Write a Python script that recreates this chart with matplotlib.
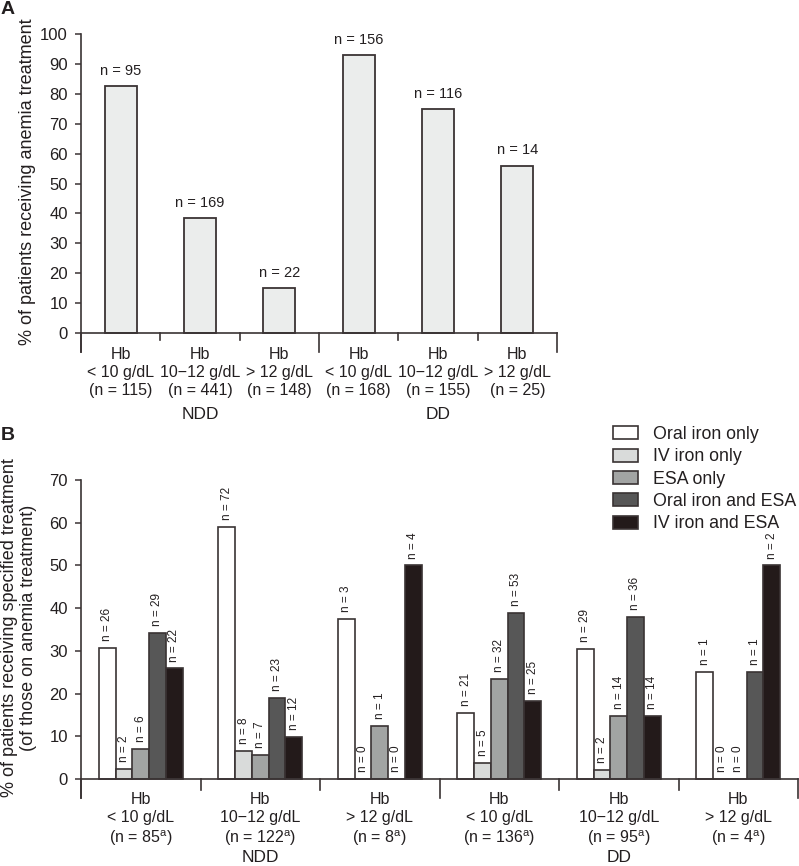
import numpy as np
import matplotlib
matplotlib.use("Agg")
import matplotlib.pyplot as plt
from matplotlib.patches import Patch

plt.rcParams['font.family'] = ['Liberation Sans', 'DejaVu Sans']
plt.rcParams['mathtext.fontset'] = 'custom'
plt.rcParams['mathtext.rm'] = 'Liberation Sans'

TXT = '#231f20'
EDGE = '#3a3334'

# ---- panel A data
a_labels = ['Hb\n< 10 g/dL\n(n = 115)', 'Hb\n10\u221212 g/dL\n(n = 441)', 'Hb\n> 12 g/dL\n(n = 148)',
            'Hb\n< 10 g/dL\n(n = 168)', 'Hb\n10\u221212 g/dL\n(n = 155)', 'Hb\n> 12 g/dL\n(n = 25)']
a_pct = [82.6, 38.3, 14.9, 92.9, 74.8, 56.0]
a_n = [95, 169, 22, 156, 116, 14]

# ---- panel B data
b_labels = ['Hb\n< 10 g/dL\n(n = 85$^\\mathregular{a}$)', 'Hb\n10\u221212 g/dL\n(n = 122$^\\mathregular{a}$)',
            'Hb\n> 12 g/dL\n(n = 8$^\\mathregular{a}$)', 'Hb\n< 10 g/dL\n(n = 136$^\\mathregular{a}$)',
            'Hb\n10\u221212 g/dL\n(n = 95$^\\mathregular{a}$)', 'Hb\n> 12 g/dL\n(n = 4$^\\mathregular{a}$)']
treatments = ['Oral iron only', 'IV iron only', 'ESA only', 'Oral iron and ESA', 'IV iron and ESA']
oral_only = [30.6, 59.0, 37.5, 15.4, 30.5, 25.0]
iv_only = [2.4, 6.6, 0.0, 3.7, 2.1, 0.0]
esa_only = [7.1, 5.7, 12.5, 23.5, 14.7, 0.0]
oral_esa = [34.1, 18.9, 0.0, 39.0, 37.9, 25.0]
iv_esa = [25.9, 9.8, 50.0, 18.4, 14.7, 50.0]
n_oral_only = [26, 72, 3, 21, 29, 1]
n_iv_only = [2, 8, 0, 5, 2, 0]
n_esa_only = [6, 7, 1, 32, 14, 0]
n_oral_esa = [29, 23, 0, 53, 36, 1]
n_iv_esa = [22, 12, 4, 25, 14, 2]
groups = ['NDD', 'DD']

b_vals = [oral_only, iv_only, esa_only, oral_esa, iv_esa]
b_ns = [n_oral_only, n_iv_only, n_esa_only, n_oral_esa, n_iv_esa]
b_colors = ['#ffffff', '#d9dbda', '#a2a4a3', '#575757', '#231a1a']

W, H = 799, 866
fig = plt.figure(figsize=(W / 100, H / 100), dpi=100)


def style_axes(ax, ymin, ymax, step, seps_long, seps_short, tick_len):
    ax.set_xlim(-0.5, 5.5)
    ax.set_ylim(ymin, ymax)
    for s in ['top', 'right', 'bottom']:
        ax.spines[s].set_visible(False)
    ax.spines['left'].set_bounds(ymin, ymax)
    ax.spines['left'].set_color(EDGE)
    ax.spines['left'].set_linewidth(1.2)
    ax.set_yticks(np.arange(0, ymax + 1, step))
    ax.tick_params(axis='y', direction='out', length=4.5, width=1.1, color=EDGE,
                   labelsize=12, labelcolor=TXT, pad=5)
    ax.plot([-0.5, 5.5], [0, 0], color=EDGE, lw=1.2, clip_on=False)
    for x in seps_long:
        ax.plot([x, x], [0, ymin], color=EDGE, lw=1.2, clip_on=False)
    for x in seps_short:
        ax.plot([x, x], [0, -tick_len], color=EDGE, lw=1.2, clip_on=False)
    ax.set_xticks([])


# ---------------- panel A
axA = fig.add_axes([81 / W, 1 - 352 / H, 476 / W, 318 / H])
xa = np.arange(6)
axA.bar(xa, a_pct, width=0.4, color='#ebedec', edgecolor=EDGE, linewidth=1.3, zorder=2)
style_axes(axA, -6.35, 100, 10, [-0.5, 2.5, 5.5], [0.5, 1.5, 3.5, 4.5], 2.3)
for x, v, n in zip(xa, a_pct, a_n):
    axA.annotate('n = %d' % n, (x, v), xytext=(0, 6), textcoords='offset points',
                 ha='center', va='bottom', fontsize=10.5, color=TXT)
for x, lab in zip(xa, a_labels):
    axA.text(x, -4.6, lab, ha='center', va='top', fontsize=11.5, color=TXT,
             linespacing=1.25)
for i, g in enumerate(groups):
    axA.text(1 + 3 * i, -27.3, g, ha='center', va='center', fontsize=12.5, color=TXT)
fig.text(28 / W, 1 - 182 / H, '% of patients receiving anemia treatment', rotation=90,
         ha='center', va='center', fontsize=13, color=TXT)
fig.text(1 / W, 1 - 1 / H, 'A', ha='left', va='top', fontsize=14, fontweight='bold', color=TXT)

# ---------------- panel B
axB = fig.add_axes([81 / W, 1 - 798 / H, 717 / W, 318 / H])
xb = np.arange(6)
bw = 0.14
for k in range(5):
    pos = xb + (k - 2) * bw
    axB.bar(pos, b_vals[k], width=bw, color=b_colors[k], edgecolor=EDGE, linewidth=1.2,
            zorder=2)
    for x, v, n in zip(pos, b_vals[k], b_ns[k]):
        axB.annotate('n = %d' % n, (x, v), xytext=(0, 5), textcoords='offset points',
                     ha='center', va='bottom', rotation=90, fontsize=8.5, color=TXT)
style_axes(axB, -4.4, 70, 10, [-0.5, 2.5, 5.5], [0.5, 1.5, 3.5, 4.5], 2.5)
for x, lab in zip(xb, b_labels):
    axB.text(x, -3.1, lab, ha='center', va='top', fontsize=11.5, color=TXT,
             linespacing=1.22)
for i, g in enumerate(groups):
    axB.text(1 + 3 * i, -18.3, g, ha='center', va='center', fontsize=12.5, color=TXT)
fig.text(19 / W, 1 - 628 / H,
         '% of patients receiving specified treatment\n(of those on anemia treatment)',
         rotation=90, ha='center', va='center', fontsize=13, color=TXT, linespacing=1.1)
fig.text(1 / W, 1 - 427 / H, 'B', ha='left', va='top', fontsize=14, fontweight='bold', color=TXT)

handles = [Patch(facecolor=c, edgecolor=EDGE, linewidth=1.2) for c in b_colors]
fig.legend(handles, treatments, loc='upper left', bbox_to_anchor=(613 / W, 1 - 426 / H),
           frameon=False, fontsize=12.8, handlelength=1.4, handleheight=0.75,
           labelspacing=0.3, handletextpad=0.85, borderpad=0, borderaxespad=0,
           labelcolor=TXT)

fig.savefig('out.png', dpi=100)
